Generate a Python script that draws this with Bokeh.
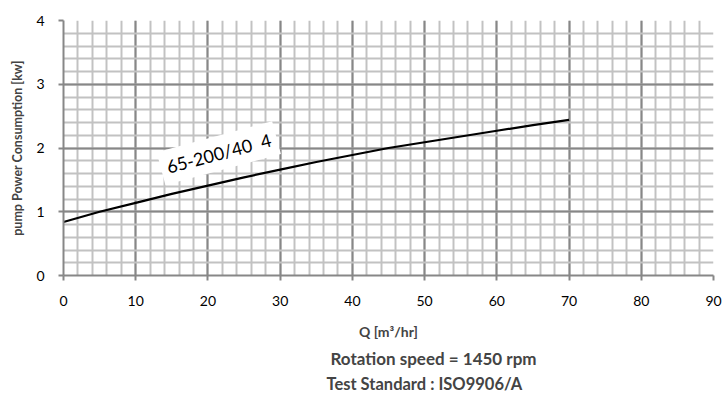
from bokeh.plotting import figure
from bokeh.models import FixedTicker, Label, Range1d, Title
from bokeh.embed import file_html
from bokeh.resources import INLINE
import math

# data
q = [0, 5, 10, 15, 20, 25, 30, 35, 40, 45, 50, 55, 60, 65, 70]
power = [0.84, 1.0, 1.14, 1.28, 1.41, 1.54, 1.66, 1.78, 1.89, 2.0, 2.09, 2.18, 2.27, 2.36, 2.44]
x_major = [0, 10, 20, 30, 40, 50, 60, 70, 80, 90]
x_minor = list(range(0, 91, 2))
y_major = [0, 1, 2, 3, 4]
y_minor = [i / 5 for i in range(0, 21)]
curve_name = "65-200/40\u00a0 4"

FONT = "Lato"

p = figure(width=725, height=396, output_backend="svg", toolbar_location=None,
           x_range=Range1d(0, 90), y_range=Range1d(0, 4),
           min_border_left=63, min_border_right=12, min_border_top=20, min_border_bottom=121)
p.outline_line_color = None
p.background_fill_color = "white"

p.xaxis.ticker = FixedTicker(ticks=x_major, minor_ticks=x_minor)
p.yaxis.ticker = FixedTicker(ticks=y_major, minor_ticks=y_minor)

for g in (p.xgrid, p.ygrid):
    g.grid_line_color = "#878787"
    g.grid_line_width = 2
    g.minor_grid_line_color = "#c2c2c2"
    g.minor_grid_line_width = 2
p.xgrid.level = "underlay"
p.ygrid.level = "underlay"

for ax in (p.xaxis, p.yaxis):
    ax.axis_line_color = "#878787"
    ax.axis_line_width = 2
    ax.major_tick_line_color = "#878787"
    ax.major_tick_line_width = 2
    ax.major_tick_in = 0
    ax.major_tick_out = 5
    ax.minor_tick_line_color = None
    ax.major_label_text_font = FONT
    ax.major_label_text_font_size = "14px"
    ax.major_label_text_color = "black"

p.xaxis.major_label_standoff = 15
p.yaxis.major_label_standoff = 14
p.yaxis.axis_label = "pump Power Consumption [kw]"
p.yaxis.axis_label_text_font = FONT
p.yaxis.axis_label_text_font_size = "12.5px"
p.yaxis.axis_label_text_font_style = "bold"
p.yaxis.axis_label_standoff = 8

p.xaxis.axis_label = "Q [m³/hr]"
p.xaxis.axis_label_text_font = FONT
p.xaxis.axis_label_text_font_size = "14px"
p.xaxis.axis_label_text_font_style = "bold"
p.xaxis.axis_label_standoff = 14

p.line(q, power, line_color="black", line_width=2.2)

p.add_layout(Label(x=21.5, y=1.92, text=curve_name, angle=15 * math.pi / 180,
                   text_font=FONT, text_font_size="18px", text_align="center",
                   text_color="black",
                   text_baseline="middle", background_fill_color="white",
                   padding=6))

t1 = Title(text="Rotation speed = 1450 rpm", text_font=FONT, text_font_size="17px",
           text_font_style="bold", align="left", offset=267, standoff=6)
t2 = Title(text="Test Standard : ISO9906/A", text_font=FONT, text_font_size="16.5px",
           text_font_style="bold", align="left", offset=263, standoff=0)
p.add_layout(t1, "below")
p.add_layout(t2, "below")

open("out.html", "w").write(file_html(p, INLINE))
